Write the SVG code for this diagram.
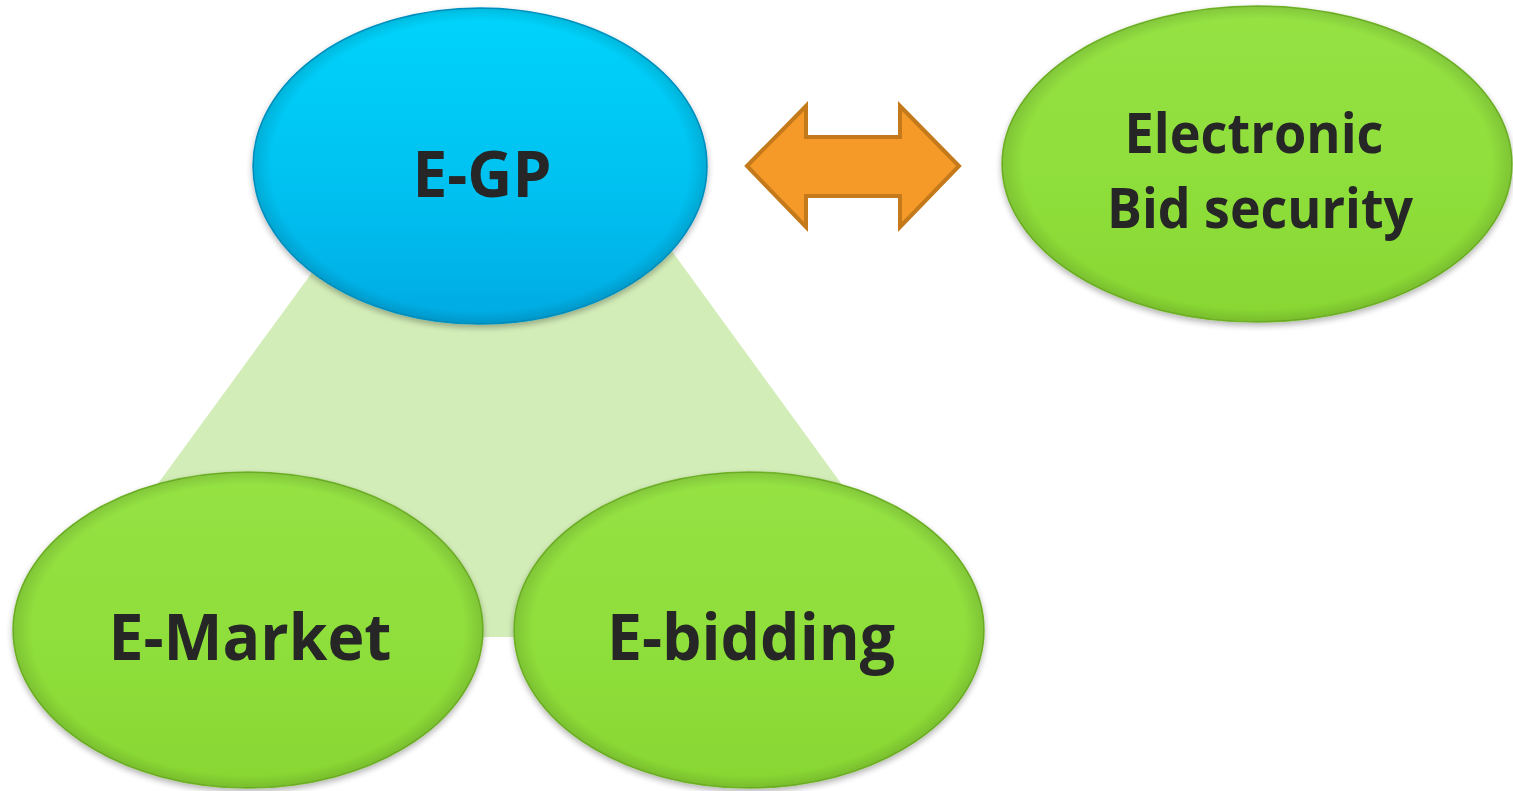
<svg xmlns="http://www.w3.org/2000/svg" width="1513" height="791" viewBox="0 0 1513 791">
<defs>
<linearGradient id="gBlue" x1="0" y1="0" x2="0" y2="1">
<stop offset="0" stop-color="#00d4fc"/>
<stop offset="0.6" stop-color="#00c0f0"/>
<stop offset="1" stop-color="#00aae2"/>
</linearGradient>
<linearGradient id="gGreen" x1="0" y1="0" x2="0" y2="1">
<stop offset="0" stop-color="#95e244"/>
<stop offset="0.6" stop-color="#8ede3a"/>
<stop offset="1" stop-color="#88d632"/>
</linearGradient>
<radialGradient id="rim" cx="0.5" cy="0.5" r="0.5">
<stop offset="0.92" stop-color="#000" stop-opacity="0"/>
<stop offset="1" stop-color="#000" stop-opacity="0.12"/>
</radialGradient>
<filter id="sh" x="-10%" y="-10%" width="120%" height="125%">
<feGaussianBlur in="SourceAlpha" stdDeviation="3"/>
<feOffset dx="0" dy="3" result="b"/>
<feComponentTransfer><feFuncA type="linear" slope="0.3"/></feComponentTransfer>
<feMerge><feMergeNode/><feMergeNode in="SourceGraphic"/></feMerge>
</filter>
</defs>
<style>
.blue{fill:url(#gBlue);stroke:#0096c8;stroke-width:1.5}
.green{fill:url(#gGreen);stroke:#74b82a;stroke-width:1.5}
.rim{fill:url(#rim)}
.lbl{font-family:"Open Sans","Noto Sans","DejaVu Sans",sans-serif;font-weight:bold;fill:#262626;text-anchor:middle}
.arrow{fill:#f59a28;stroke:#c47a1a;stroke-width:4;stroke-linejoin:miter}
</style>
<g id="background-triangle">
<polygon points="500,15 46,637 953,637" fill="#d3edb8"/>
</g>
<g id="connectors">
<polygon class="arrow" points="747,166 806,106 806,137 900,137 900,106 959,166 900,227 900,196 806,196 806,227"/>
</g>
<g id="node-egp" filter="url(#sh)">
<ellipse class="blue" cx="480" cy="166" rx="227" ry="158"/>
<ellipse class="rim" cx="480" cy="166" rx="227" ry="158"/>
<text class="lbl" x="482" y="197" font-size="65" textLength="139" lengthAdjust="spacingAndGlyphs">E-GP</text>
</g>
<g id="node-bid-security" filter="url(#sh)">
<ellipse class="green" cx="1257" cy="164" rx="255" ry="158"/>
<ellipse class="rim" cx="1257" cy="164" rx="255" ry="158"/>
<text class="lbl" x="1254" y="153" font-size="55" textLength="259" lengthAdjust="spacingAndGlyphs">Electronic</text>
<text class="lbl" x="1260" y="228" font-size="55" textLength="306" lengthAdjust="spacingAndGlyphs">Bid security</text>
</g>
<g id="node-emarket" filter="url(#sh)">
<ellipse class="green" cx="248" cy="630" rx="235" ry="158"/>
<ellipse class="rim" cx="248" cy="630" rx="235" ry="158"/>
<text class="lbl" x="250" y="660" font-size="65" textLength="283" lengthAdjust="spacingAndGlyphs">E-Market</text>
</g>
<g id="node-ebidding" filter="url(#sh)">
<ellipse class="green" cx="749" cy="630" rx="235" ry="158"/>
<ellipse class="rim" cx="749" cy="630" rx="235" ry="158"/>
<text class="lbl" x="751" y="660" font-size="65" textLength="288" lengthAdjust="spacingAndGlyphs">E-bidding</text>
</g>
</svg>
